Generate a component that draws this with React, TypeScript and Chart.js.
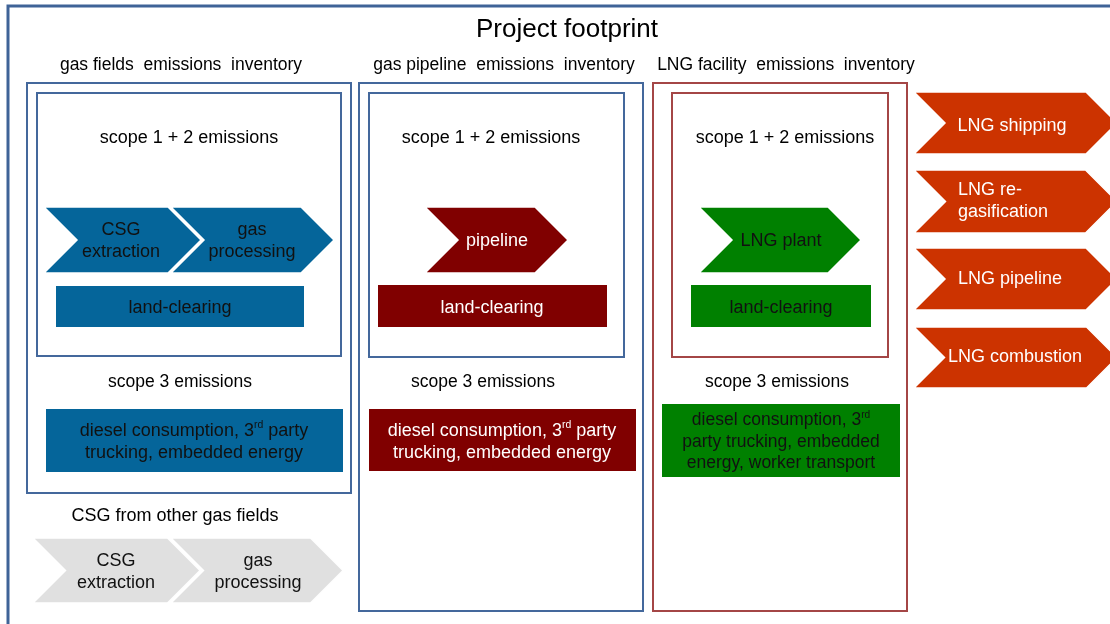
import React, { useEffect, useRef } from "react";
import { Chart, registerables } from "chart.js";

Chart.register(...registerables);

const W = 1110;
const H = 624;

const BLUE = "#05659a";
const DARKRED = "#800000";
const GREEN = "#008000";
const GRAY = "#e0e0e0";
const ORANGE = "#cc3300";
const FRAME_BLUE = "#44689c";
const FRAME_RED = "#a44646";
const FONT = '"Liberation Sans", Arial, Helvetica, sans-serif';

// Outline boxes: [x0, y0, x1, y1]
const frameBoxes = [
  { box: [8, 6, 1124, 640], color: "#3f6397", width: 3 },
  { box: [27, 83, 351, 493], color: FRAME_BLUE, width: 2 },
  { box: [37, 93, 341, 356], color: FRAME_BLUE, width: 2 },
  { box: [359, 83, 643, 611], color: FRAME_BLUE, width: 2 },
  { box: [369, 93, 624, 357], color: FRAME_BLUE, width: 2 },
  { box: [653, 83, 907, 611], color: FRAME_RED, width: 2 },
  { box: [672, 93, 888, 357], color: FRAME_RED, width: 2 },
];

// Filled rectangles: [x0, y0, x1, y1]
const filledRects = [
  { box: [56, 286, 304, 327], color: BLUE },
  { box: [46, 409, 343, 472], color: BLUE },
  { box: [378, 285, 607, 327], color: DARKRED },
  { box: [369, 409, 636, 471], color: DARKRED },
  { box: [691, 285, 871, 327], color: GREEN },
  { box: [662, 404, 900, 477], color: GREEN },
];

// Chevrons: [left, tip, top, bottom]
const chevrons = [
  { box: [44, 201, 207, 273], color: BLUE },
  { box: [171, 334, 207, 273], color: BLUE },
  { box: [425, 568, 207, 273], color: DARKRED },
  { box: [699, 861, 207, 273], color: GREEN },
  { box: [33, 200, 538, 603], color: GRAY },
  { box: [171, 343, 538, 603], color: GRAY },
  { box: [914, 1117, 92, 154], color: ORANGE },
  { box: [914, 1117, 170, 233], color: ORANGE },
  { box: [914, 1117, 248, 310], color: ORANGE },
  { box: [914, 1117, 327, 388], color: ORANGE },
];

// Text labels; {xx} marks superscript
const labels = [
  { lines: ["Project footprint"], x: 567, y: 29, size: 26, color: "#000", align: "center", lh: 28 },
  { lines: ["gas fields  emissions  inventory"], x: 181, y: 64, size: 17.5, color: "#000", align: "center", lh: 22 },
  { lines: ["gas pipeline  emissions  inventory"], x: 504, y: 64, size: 17.5, color: "#000", align: "center", lh: 22 },
  { lines: ["LNG facility  emissions  inventory"], x: 786, y: 64, size: 17.5, color: "#000", align: "center", lh: 22 },
  { lines: ["scope 1 + 2 emissions"], x: 189, y: 137, size: 18, color: "#000", align: "center", lh: 22 },
  { lines: ["scope 1 + 2 emissions"], x: 491, y: 137, size: 18, color: "#000", align: "center", lh: 22 },
  { lines: ["scope 1 + 2 emissions"], x: 785, y: 137, size: 18, color: "#000", align: "center", lh: 22 },
  { lines: ["CSG", "extraction"], x: 121, y: 240, size: 18, color: "#111", align: "center", lh: 22 },
  { lines: ["gas", "processing"], x: 252, y: 240, size: 18, color: "#111", align: "center", lh: 22 },
  { lines: ["pipeline"], x: 497, y: 240, size: 18, color: "#fff", align: "center", lh: 22 },
  { lines: ["LNG plant"], x: 781, y: 240, size: 18, color: "#111", align: "center", lh: 22 },
  { lines: ["land-clearing"], x: 180, y: 307, size: 18, color: "#111", align: "center", lh: 22 },
  { lines: ["land-clearing"], x: 492, y: 307, size: 18, color: "#fff", align: "center", lh: 22 },
  { lines: ["land-clearing"], x: 781, y: 307, size: 18, color: "#111", align: "center", lh: 22 },
  { lines: ["scope 3 emissions"], x: 180, y: 381, size: 17.5, color: "#000", align: "center", lh: 22 },
  { lines: ["scope 3 emissions"], x: 483, y: 381, size: 17.5, color: "#000", align: "center", lh: 22 },
  { lines: ["scope 3 emissions"], x: 777, y: 381, size: 17.5, color: "#000", align: "center", lh: 22 },
  { lines: ["diesel consumption, 3{rd} party", "trucking, embedded energy"], x: 194, y: 441, size: 18, color: "#111", align: "center", lh: 22 },
  { lines: ["diesel consumption, 3{rd} party", "trucking, embedded energy"], x: 502, y: 441, size: 18, color: "#fff", align: "center", lh: 22 },
  { lines: ["diesel consumption, 3{rd}", "party trucking, embedded", "energy, worker transport"], x: 781, y: 441, size: 17.5, color: "#111", align: "center", lh: 21.5 },
  { lines: ["CSG from other gas fields"], x: 175, y: 515, size: 18, color: "#000", align: "center", lh: 22 },
  { lines: ["CSG", "extraction"], x: 116, y: 571, size: 18, color: "#111", align: "center", lh: 22 },
  { lines: ["gas", "processing"], x: 258, y: 571, size: 18, color: "#111", align: "center", lh: 22 },
  { lines: ["LNG shipping"], x: 1012, y: 125, size: 18, color: "#fff", align: "center", lh: 22 },
  { lines: ["LNG re-", "gasification"], x: 958, y: 200, size: 18, color: "#fff", align: "left", lh: 22 },
  { lines: ["LNG pipeline"], x: 1010, y: 278, size: 18, color: "#fff", align: "center", lh: 22 },
  { lines: ["LNG combustion"], x: 1015, y: 356, size: 18, color: "#fff", align: "center", lh: 22 },
];

const TEXT_NUDGE = 1;

function parseSegments(line: string) {
  const segs: { t: string; sup: boolean }[] = [];
  const re = /\{([^}]*)\}/g;
  let last = 0;
  let m: RegExpExecArray | null;
  while ((m = re.exec(line))) {
    if (m.index > last) segs.push({ t: line.slice(last, m.index), sup: false });
    segs.push({ t: m[1], sup: true });
    last = m.index + m[0].length;
  }
  if (last < line.length) segs.push({ t: line.slice(last), sup: false });
  return segs;
}

const diagramPlugin = {
  id: "diagram",
  afterDraw(chart: any) {
    const ctx: CanvasRenderingContext2D = chart.ctx;
    const xs = chart.scales.x;
    const ys = chart.scales.y;
    const px = (v: number) => xs.getPixelForValue(v);
    const py = (v: number) => ys.getPixelForValue(v);

    ctx.save();
    ctx.fillStyle = "#fff";
    ctx.fillRect(0, 0, chart.width, chart.height);

    frameBoxes.forEach((f) => {
      const [x0, y0, x1, y1] = f.box;
      ctx.strokeStyle = f.color;
      ctx.lineWidth = f.width;
      ctx.strokeRect(px(x0), py(y0), px(x1) - px(x0), py(y1) - py(y0));
    });

    filledRects.forEach((r) => {
      const [x0, y0, x1, y1] = r.box;
      ctx.fillStyle = r.color;
      ctx.fillRect(px(x0), py(y0), px(x1) - px(x0), py(y1) - py(y0));
    });

    chevrons.forEach((c) => {
      const [l, tip, t, b] = c.box;
      const L = px(l), T = px(tip), Y0 = py(t), Y1 = py(b);
      const d = (Y1 - Y0) / 2;
      const M = (Y0 + Y1) / 2;
      ctx.beginPath();
      ctx.moveTo(L, Y0);
      ctx.lineTo(T - d, Y0);
      ctx.lineTo(T, M);
      ctx.lineTo(T - d, Y1);
      ctx.lineTo(L, Y1);
      ctx.lineTo(L + d, M);
      ctx.closePath();
      ctx.fillStyle = c.color;
      ctx.fill();
      ctx.strokeStyle = "#ffffff";
      ctx.lineWidth = 1.5;
      ctx.stroke();
    });

    ctx.textBaseline = "middle";
    labels.forEach((lab) => {
      const n = lab.lines.length;
      lab.lines.forEach((line, i) => {
        const segs = parseSegments(line);
        const ySeg = py(lab.y + TEXT_NUDGE + (i - (n - 1) / 2) * lab.lh);
        let total = 0;
        segs.forEach((s) => {
          ctx.font = `${s.sup ? lab.size * 0.58 : lab.size}px ${FONT}`;
          total += ctx.measureText(s.t).width;
        });
        let x = lab.align === "center" ? px(lab.x) - total / 2 : px(lab.x);
        ctx.textAlign = "left";
        ctx.fillStyle = lab.color;
        segs.forEach((s) => {
          ctx.font = `${s.sup ? lab.size * 0.58 : lab.size}px ${FONT}`;
          ctx.fillText(s.t, x, s.sup ? ySeg - lab.size * 0.3 : ySeg);
          x += ctx.measureText(s.t).width;
        });
      });
    });
    ctx.restore();
  },
};

export default function App() {
  const ref = useRef<HTMLCanvasElement | null>(null);
  useEffect(() => {
    if (!ref.current) return;
    const chart = new Chart(ref.current, {
      type: "scatter",
      data: { datasets: [{ data: [], pointRadius: 0 }] },
      options: {
        animation: false,
        responsive: false,
        devicePixelRatio: 1,
        layout: { padding: 0 },
        scales: {
          x: { type: "linear", min: 0, max: W, display: false },
          y: { type: "linear", min: 0, max: H, reverse: true, display: false },
        },
        plugins: { legend: { display: false }, tooltip: { enabled: false }, title: { display: false } },
        events: [],
      },
      plugins: [diagramPlugin],
    });
    return () => chart.destroy();
  }, []);
  return (
    <div style={{ position: "fixed", left: 0, top: 0, width: W, height: H, background: "#fff" }}>
      <canvas ref={ref} width={W} height={H} style={{ display: "block", width: W, height: H }} />
    </div>
  );
}
